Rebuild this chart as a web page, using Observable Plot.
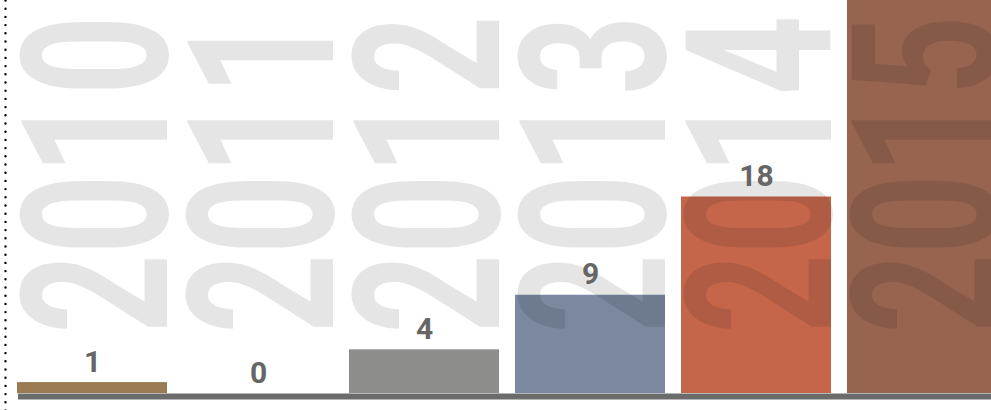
<!DOCTYPE html>
<html><head><meta charset="utf-8">
<script src="https://cdn.jsdelivr.net/npm/d3@7"></script>
<script src="https://cdn.jsdelivr.net/npm/@observablehq/plot@0.6"></script>
<style>html,body{margin:0;padding:0;background:#fff;overflow:hidden}</style>
</head><body><div id="chart"></div>
<script>
const years = ["2010","2011","2012","2013","2014","2015"];
const counts = [1, 0, 4, 9, 18, 40];
const palette = ["#9b7b53","#8d8d8b","#8d8d8b","#7b88a0","#c5664b","#976450"];

const data = years.map((year, i) => ({year, count: counts[i]}));

const chart = Plot.plot({
  width: 991, height: 410,
  marginLeft: 18, marginRight: 0, marginTop: 0, marginBottom: 17,
  x: {domain: years, range: [9, 1005], paddingInner: 16/166, paddingOuter: 8/166, axis: null},
  y: {domain: [0, 36], axis: null},
  color: {domain: years, range: palette},
  marks: [
    Plot.barY(data, {x: "year", y: "count", fill: "year"}),
    Plot.text(data, {x: "year", frameAnchor: "bottom", text: "year", rotate: -90,
      textAnchor: "start", lineAnchor: "bottom", dx: 74, dy: -60,
      fontSize: 205, fontWeight: 700, fontFamily: "Roboto",
      fill: "black", fillOpacity: 0.1}),
    Plot.ruleY([0], {stroke: "#6b6b6b", strokeWidth: 6, dy: 3}),
    Plot.text(data, {x: "year", y: "count", text: "count", lineAnchor: "bottom", dy: -11,
      fontSize: 30, fontWeight: 700, fontFamily: "Roboto", fill: "#666"}),
    Plot.frame({anchor: "left", stroke: "black", strokeWidth: 2.4, strokeDasharray: "0 8.2",
      strokeLinecap: "round", dx: -13, insetBottom: -17})
  ]
});
chart.querySelectorAll("text").forEach(t => {
  if (/^\d{4}$/.test(t.textContent.trim())) {
    t.setAttribute("textLength", "318");
    t.setAttribute("lengthAdjust", "spacingAndGlyphs");
  }
});
document.getElementById("chart").appendChild(chart);
</script>
</body></html>
